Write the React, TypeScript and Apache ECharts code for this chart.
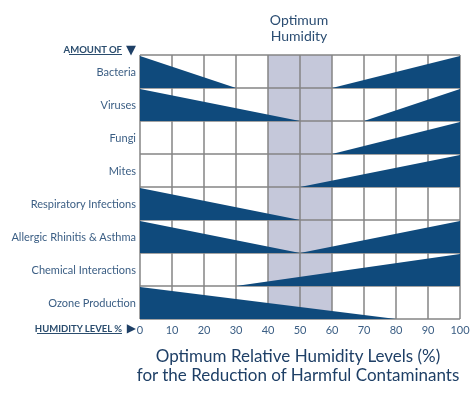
import React, { useEffect, useRef } from "react";
import * as echarts from "echarts";

const categories = [
  "Bacteria",
  "Viruses",
  "Fungi",
  "Mites",
  "Respiratory Infections",
  "Allergic Rhinitis & Asthma",
  "Chemical Interactions",
  "Ozone Production",
];
// humidity where the "too dry" wedge reaches zero (null = none)
const decreaseEnd: (number | null)[] = [30, 50, null, null, 50, 50, null, 80];
// humidity where the "too humid" wedge starts (null = none)
const increaseStart: (number | null)[] = [60, 70, 60, 50, null, 50, 30, null];
const optimumRange = [40, 60];
const xTicks = [0, 10, 20, 30, 40, 50, 60, 70, 80, 90, 100];

const NAVY = "#0f4a7c";
const LABEL = "#3b5e84";
const FONT = "Lato, 'Open Sans', sans-serif";

export default function App() {
  const ref = useRef<HTMLDivElement>(null);
  useEffect(() => {
    if (!ref.current) return;
    const chart = echarts.init(ref.current, undefined, { renderer: "svg" });

    const wedges: any[] = [];
    categories.forEach((_, i) => {
      if (decreaseEnd[i] != null) wedges.push([i, 0, decreaseEnd[i], -1]);
      if (increaseStart[i] != null) wedges.push([i, increaseStart[i], 100, 1]);
    });

    chart.setOption({
      animation: false,
      grid: { left: 140, top: 55, right: 14, bottom: 76 },
      xAxis: {
        type: "value",
        min: 0,
        max: 100,
        interval: 10,
        z: 1,
        axisLine: { show: false },
        axisTick: { show: false },
        axisLabel: {
          color: LABEL,
          fontSize: 11,
          fontFamily: FONT,
          margin: 5,
          customValues: xTicks,
          alignMinLabel: "center",
          alignMaxLabel: "center",
          formatter: (v: number) => String(v),
        },
        splitLine: { show: true, lineStyle: { color: "#858585", width: 1.5 } },
      },
      yAxis: {
        type: "category",
        data: categories,
        inverse: true,
        z: 1,
        axisLine: { show: false },
        axisTick: { show: false },
        axisLabel: { color: LABEL, fontSize: 11, fontFamily: FONT, margin: 4 },
        splitLine: { show: true, lineStyle: { color: "#858585", width: 1.5 } },
      },
      series: [
        {
          type: "custom",
          z: 0,
          data: [optimumRange],
          renderItem: (params: any, api: any) => {
            const cs = params.coordSys;
            const x0 = api.coord([api.value(0), 0])[0];
            const x1 = api.coord([api.value(1), 0])[0];
            return {
              type: "rect",
              shape: { x: x0, y: cs.y, width: x1 - x0, height: cs.height },
              style: { fill: "#c5c8da" },
            };
          },
        },
        {
          type: "custom",
          z: 3,
          data: wedges,
          renderItem: (params: any, api: any) => {
            const idx = api.value(0);
            const a = api.value(1);
            const b = api.value(2);
            const dir = api.value(3);
            const half = api.size([0, 1])[1] / 2;
            const cy = api.coord([0, idx])[1];
            const top = cy - half + 1;
            const bottom = cy + half;
            const xa = api.coord([a, idx])[0];
            const xb = api.coord([b, idx])[0];
            const pts =
              dir < 0
                ? [
                    [xa, top],
                    [xa, bottom],
                    [xb, bottom],
                  ]
                : [
                    [xa, bottom],
                    [xb, top],
                    [xb, bottom],
                  ];
            return { type: "polygon", shape: { points: pts }, style: { fill: NAVY } };
          },
        },
      ],
      graphic: [
        {
          type: "text",
          x: 299,
          y: 27,
          style: {
            text: "Optimum\nHumidity",
            fill: "#2b4d72",
            font: `14px ${FONT}`,
            align: "center",
            verticalAlign: "middle",
            lineHeight: 16,
          },
        },
        {
          type: "text",
          x: 298,
          y: 365,
          style: {
            text: "Optimum Relative Humidity Levels (%)\nfor the Reduction of Harmful Contaminants",
            fill: "#1e3f66",
            font: `17px ${FONT}`,
            align: "center",
            verticalAlign: "middle",
            lineHeight: 19,
          },
        },
        {
          type: "text",
          x: 122,
          y: 49,
          style: {
            text: "AMOUNT OF",
            fill: "#2b4d6e",
            font: `bold 9.5px ${FONT}`,
            align: "right",
            verticalAlign: "middle",
          },
        },
        {
          type: "text",
          x: 136,
          y: 49,
          style: { text: "▼", fill: "#1e3f66", font: `13px 'DejaVu Sans', sans-serif`, align: "right", verticalAlign: "middle" },
        },
        { type: "line", shape: { x1: 69, y1: 54.5, x2: 122, y2: 54.5 }, style: { stroke: "#2b4d6e", lineWidth: 1 } },
        {
          type: "text",
          x: 122,
          y: 328,
          style: {
            text: "HUMIDITY LEVEL %",
            fill: "#2b4d6e",
            font: `bold 9.5px ${FONT}`,
            align: "right",
            verticalAlign: "middle",
          },
        },
        {
          type: "text",
          x: 136,
          y: 328,
          style: { text: "▶", fill: "#1e3f66", font: `12px 'DejaVu Sans', sans-serif`, align: "right", verticalAlign: "middle" },
        },
        { type: "line", shape: { x1: 37, y1: 333.5, x2: 122, y2: 333.5 }, style: { stroke: "#2b4d6e", lineWidth: 1 } },
      ],
    });
    return () => chart.dispose();
  }, []);
  return (
    <div
      ref={ref}
      style={{ width: 474, height: 395, position: "fixed", left: 0, top: 0 }}
    />
  );
}
